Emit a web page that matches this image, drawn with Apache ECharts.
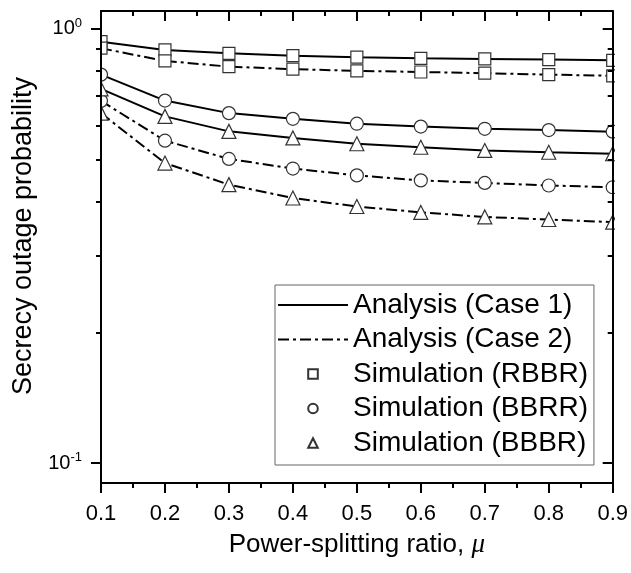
<!DOCTYPE html>
<html>
<head>
<meta charset="utf-8">
<script src="https://cdn.jsdelivr.net/npm/echarts@6/dist/echarts.min.js"></script>
<style>html,body{margin:0;padding:0;background:#fff}#c{width:631px;height:573px}</style>
</head>
<body>
<div id="c"></div>
<script>
// Data
const mu = [0.1, 0.2, 0.3, 0.4, 0.5, 0.6, 0.7, 0.8, 0.9];
const rbbrCase1 = [0.935, 0.895, 0.879, 0.868, 0.861, 0.856, 0.853, 0.850, 0.847];
const rbbrCase2 = [0.903, 0.844, 0.819, 0.808, 0.801, 0.796, 0.791, 0.785, 0.780];
const bbrrCase1 = [0.785, 0.684, 0.640, 0.621, 0.605, 0.596, 0.589, 0.585, 0.580];
const bbbrCase1 = [0.728, 0.629, 0.581, 0.561, 0.544, 0.534, 0.525, 0.520, 0.516];
const bbrrCase2 = [0.683, 0.553, 0.502, 0.477, 0.460, 0.448, 0.442, 0.436, 0.432];
const bbbrCase2 = [0.640, 0.491, 0.438, 0.408, 0.390, 0.378, 0.369, 0.364, 0.359];
const simRBBR = [rbbrCase1, rbbrCase2];
const simBBRR = [bbrrCase1, bbrrCase2];
const simBBBR = [bbbrCase1, bbbrCase2];
const yMajorTicks = [0.1, 1];
const yMinorTicks = [0.2, 0.3, 0.4, 0.5, 0.6, 0.7, 0.8, 0.9];

const FONT = 'Liberation Sans';
const pairs = (ys) => mu.map((x, i) => [x, ys[i]]);
const dashDot = [11, 4, 3, 4];

function analysis(name, ys, dashed) {
  return {
    name: name, type: 'line', data: pairs(ys), symbol: 'none',
    lineStyle: { color: '#000', width: 2, type: dashed ? dashDot : 'solid' },
    itemStyle: { color: '#000' }, z: 2, animation: false
  };
}
function sim(name, sets, symbol, size) {
  return sets.map(ys => ({
    name: name, type: 'line', data: pairs(ys), symbol: symbol, symbolSize: size,
    showAllSymbol: true,
    lineStyle: { width: 0, opacity: 0 },
    itemStyle: { color: '#fff', borderColor: '#333', borderWidth: 1.2 },
    z: 3, animation: false
  }));
}

const series = [
  analysis('Analysis (Case 1)', rbbrCase1, false),
  analysis('Analysis (Case 1)', bbrrCase1, false),
  analysis('Analysis (Case 1)', bbbrCase1, false),
  analysis('Analysis (Case 2)', rbbrCase2, true),
  analysis('Analysis (Case 2)', bbrrCase2, true),
  analysis('Analysis (Case 2)', bbbrCase2, true),
  ...sim('Simulation (RBBR)', simRBBR, 'rect', 12),
  ...sim('Simulation (BBRR)', simBBRR, 'circle', 13),
  ...sim('Simulation (BBBR)', simBBBR, 'triangle', 14)
];

const yBase = { type: 'log', min: 0.09, max: 1.1, z: 10, splitLine: { show: false }, minorTick: { show: false } };
const xBase = { type: 'value', min: 0.1, max: 0.9, interval: 0.1, z: 10, splitLine: { show: false } };
const axLine = { show: true, lineStyle: { color: '#000', width: 2 } };

const chart = echarts.init(document.getElementById('c'), null, { renderer: 'canvas' });
chart.setOption({
  animation: false,
  backgroundColor: '#fff',
  grid: { left: 101, right: 17, top: 11, bottom: 90, containLabel: false },
  // white masks so that markers at the plot edges are cut by the frame, as in the reference
  graphic: [
    { type: 'rect', left: 84, top: 11, shape: { width: 16, height: 472 }, style: { fill: '#fff' }, z: 5, silent: true },
    { type: 'rect', left: 615, top: 11, shape: { width: 16, height: 472 }, style: { fill: '#fff' }, z: 5, silent: true }
  ],
  xAxis: [
    Object.assign({}, xBase, {
      position: 'bottom',
      axisLine: axLine,
      axisTick: { show: true, length: 10, inside: false, lineStyle: { color: '#000', width: 2 } },
      minorTick: { show: true, splitNumber: 2, length: 5, lineStyle: { color: '#000', width: 2 } },
      axisLabel: { fontFamily: FONT, fontSize: 22, color: '#000', margin: 20, formatter: v => v.toFixed(1) },
      name: 'Power-splitting ratio, {i|μ}',
      nameLocation: 'middle', nameGap: 48,
      nameTextStyle: { fontFamily: FONT, fontSize: 26, color: '#000',
        rich: { i: { fontFamily: 'Liberation Serif', fontStyle: 'italic', fontSize: 27, color: '#000' } } }
    }),
    Object.assign({}, xBase, {
      position: 'top',
      axisLine: axLine,
      axisTick: { show: true, length: 10, inside: true, lineStyle: { color: '#000', width: 2 } },
      minorTick: { show: true, splitNumber: 2, length: 5, lineStyle: { color: '#000', width: 2 } },
      axisLabel: { show: false }
    })
  ],
  yAxis: [
    Object.assign({}, yBase, {
      position: 'left',
      axisLine: axLine,
      axisTick: { show: true, length: 10, inside: false, customValues: yMajorTicks, lineStyle: { color: '#000', width: 2 } },
      axisLabel: {
        customValues: yMajorTicks, margin: 19, color: '#000', fontFamily: FONT, fontSize: 20,
        formatter: v => (v >= 1 ? '{b|10}{s|0}' : '{b|10}{s|-1}'),
        rich: {
          b: { fontFamily: FONT, fontSize: 20, color: '#000', lineHeight: 24 },
          s: { fontFamily: FONT, fontSize: 13, color: '#000', verticalAlign: 'top' }
        }
      },
      name: 'Secrecy outage probability',
      nameLocation: 'middle', nameGap: 60,
      nameTextStyle: { fontFamily: FONT, fontSize: 27, color: '#000', padding: [0, 0, 0, 22] }
    }),
    Object.assign({}, yBase, {
      position: 'left',
      axisLine: { show: false },
      axisTick: { show: true, length: 5, inside: false, customValues: yMinorTicks, lineStyle: { color: '#000', width: 2 } },
      axisLabel: { show: false }
    }),
    Object.assign({}, yBase, {
      position: 'right',
      axisLine: axLine,
      axisTick: { show: true, length: 10, inside: true, customValues: yMajorTicks, lineStyle: { color: '#000', width: 2 } },
      axisLabel: { show: false }
    }),
    Object.assign({}, yBase, {
      position: 'right',
      axisLine: { show: false },
      axisTick: { show: true, length: 5, inside: true, customValues: yMinorTicks, lineStyle: { color: '#000', width: 2 } },
      axisLabel: { show: false }
    })
  ],
  legend: {
    orient: 'vertical', left: 275, top: 285, z: 12,
    data: [
      { name: 'Analysis (Case 1)', itemStyle: { opacity: 0 } },
      { name: 'Analysis (Case 2)', itemStyle: { opacity: 0 } },
      'Simulation (RBBR)', 'Simulation (BBRR)', 'Simulation (BBBR)'
    ],
    itemWidth: 70, itemHeight: 12, itemGap: 6.5,
    padding: [6, 6, 8, 2],
    borderColor: '#666', borderWidth: 1, backgroundColor: '#fff',
    textStyle: { fontFamily: FONT, fontSize: 28, color: '#000', lineHeight: 28 },
    selectedMode: false
  },
  series: series
});
</script>
</body>
</html>
